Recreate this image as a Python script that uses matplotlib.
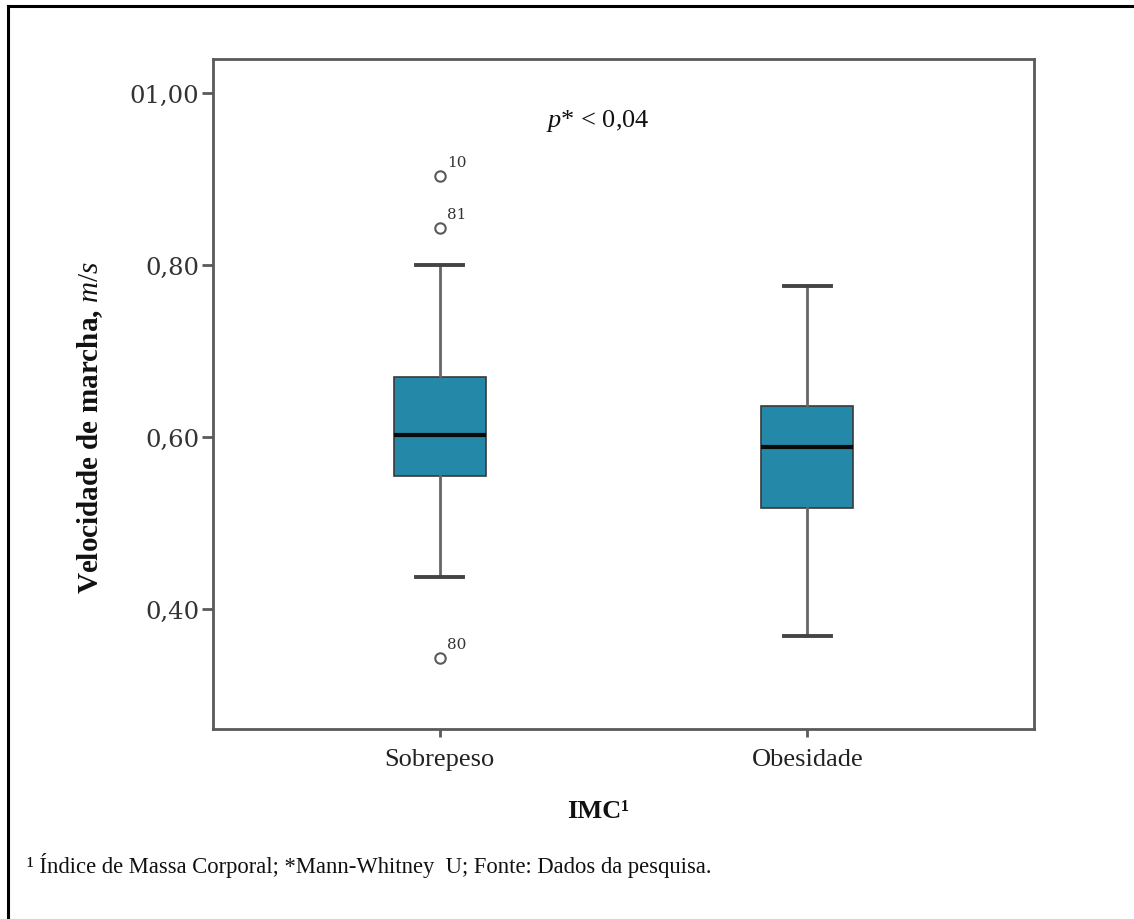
"""
Boxplot: velocidade de marcha por IMC (estilo SPSS).
"""

import matplotlib
matplotlib.use("Agg")
import matplotlib.pyplot as plt
from matplotlib.lines import Line2D

plt.rcParams["font.family"] = ["Liberation Serif", "DejaVu Serif"]
plt.rcParams["mathtext.fontset"] = "custom"
plt.rcParams["mathtext.rm"] = "Liberation Serif"
plt.rcParams["mathtext.it"] = "Liberation Serif:italic"

# Data
groups = ["Sobrepeso", "Obesidade"]
q1 = [0.555, 0.517]
median = [0.602, 0.588]
q3 = [0.669, 0.636]
whis_lo = [0.437, 0.369]
whis_hi = [0.800, 0.775]
outliers = [[0.903, 0.843, 0.343], []]
outlier_ids = [["10", "81", "80"], []]

y_ticks = [0.40, 0.60, 0.80, 1.00]
y_ticklabels = ["0,40", "0,60", "0,80", "01,00"]

BOX_COLOR = "#2489A9"
LINE_GRAY = "#5a5a5a"

fig = plt.figure(figsize=(11.34, 9.2), dpi=100)
ax = fig.add_axes([213 / 1134, 1 - 730 / 920, (1034 - 213) / 1134, (730 - 60) / 920])

stats = []
for i, name in enumerate(groups):
    stats.append({
        "label": name,
        "q1": q1[i], "med": median[i], "q3": q3[i],
        "whislo": whis_lo[i], "whishi": whis_hi[i],
        "fliers": outliers[i],
    })

positions = list(range(len(groups)))
ax.bxp(
    stats, positions=positions, widths=0.25, patch_artist=True,
    boxprops=dict(facecolor=BOX_COLOR, edgecolor="#3a3a3a", linewidth=1.2),
    medianprops=dict(color="#0a0a0a", linewidth=3),
    whiskerprops=dict(color="#666666", linewidth=2),
    capprops=dict(color="#444444", linewidth=2.8),
    capwidths=0.127,
    flierprops=dict(marker="o", markersize=7.5, markerfacecolor="none",
                    markeredgecolor=LINE_GRAY, markeredgewidth=1.5),
)

# Outlier case numbers
for i, (vals, ids) in enumerate(zip(outliers, outlier_ids)):
    for v, label in zip(vals, ids):
        ax.annotate(label, (positions[i], v), xytext=(5, 5),
                    textcoords="offset points", ha="left", va="bottom",
                    fontsize=11, family="DejaVu Serif", color="#333333")

ax.set_xlim(-0.617, 1.617)
ax.set_ylim(0.2605, 1.039)

ax.set_yticks(y_ticks)
ax.set_yticklabels(y_ticklabels, family="DejaVu Serif", fontsize=17.5, color="#333333")
ax.set_xticks(positions)
ax.set_xticklabels(groups, fontsize=19, color="#222222")
ax.tick_params(axis="y", length=8, width=2, color=LINE_GRAY, pad=2)
ax.tick_params(axis="x", length=6, width=2, color=LINE_GRAY, pad=8)

for side in ["left", "right", "top", "bottom"]:
    ax.spines[side].set_color(LINE_GRAY)
    ax.spines[side].set_linewidth(2)

ax.text(0.469, 0.909, "$p$* < 0,04", transform=ax.transAxes,
        ha="center", va="center", fontsize=19, color="#111111")

fig.text(90 / 1134, 1 - 428 / 920, "Velocidade de marcha, $\\mathit{m/s}$",
         rotation=90, ha="center", va="center", fontsize=21,
         fontweight="bold", color="#111111")

fig.text(598 / 1134, 1 - 812 / 920, "IMC¹", ha="center", va="center",
         fontsize=19, fontweight="bold", color="#111111")

fig.text(27 / 1134, 1 - 866 / 920,
         "¹ Índice de Massa Corporal; *Mann-Whitney  U; Fonte: Dados da pesquisa.",
         ha="left", va="center", fontsize=16.3, color="#111111")

# Outer frame (left and top edges visible)
fig.add_artist(Line2D([8 / 1134, 8 / 1134], [0, 1 - 7 / 920],
                      transform=fig.transFigure, color="black", linewidth=2.2))
fig.add_artist(Line2D([8 / 1134, 1], [1 - 7 / 920, 1 - 7 / 920],
                      transform=fig.transFigure, color="black", linewidth=2.2))

fig.savefig("out.png", dpi=100)
